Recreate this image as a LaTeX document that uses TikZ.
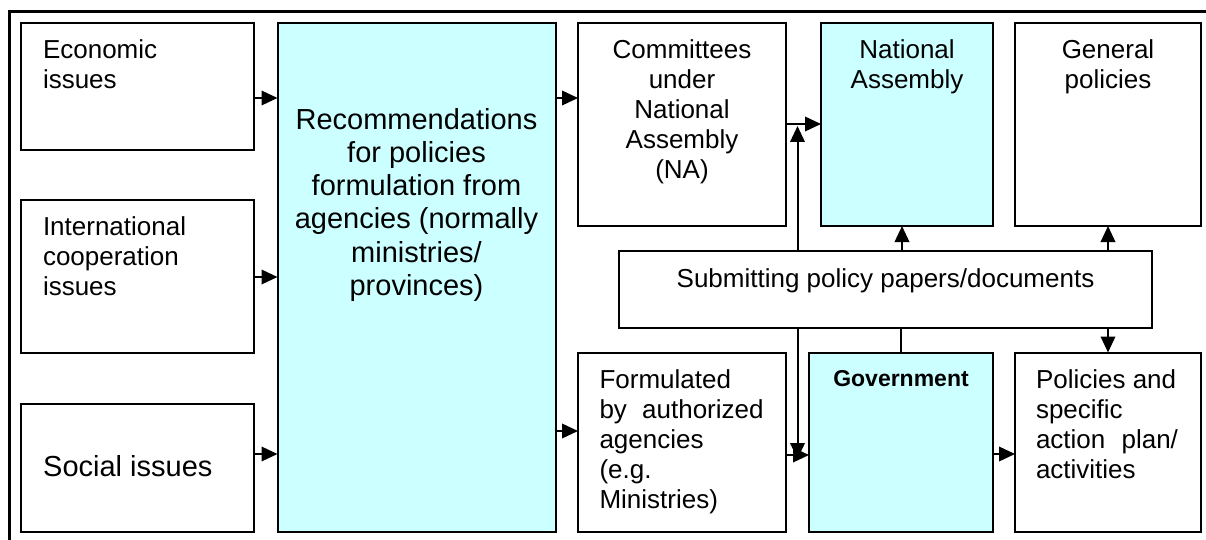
\documentclass[tikz,border=0pt]{standalone}
\usepackage{fontspec}
\setmainfont{Liberation Sans}
\usetikzlibrary{arrows.meta}
\definecolor{paleCyan}{HTML}{CCFFFF}
\tikzset{
  box/.style={draw=black, line width=2pt, anchor=north west, inner sep=0pt, outer sep=0pt, fill=white},
  tintbox/.style={box, fill=paleCyan},
  txt/.style={inner sep=0pt, font=\fontsize{26}{30}\selectfont},
  bigtxt/.style={inner sep=0pt, font=\fontsize{29}{33.3}\selectfont},
  arr/.style={line width=2pt, -{Triangle[length=16pt,width=14.5pt]}},
  link/.style={line width=2pt},
}
\begin{document}
\begin{tikzpicture}[x=1pt, y=-1pt]
  \useasboundingbox (0,0) rectangle (1206,540);
  \fill[white] (0,0) rectangle (1206,540);
  \clip (0,0) rectangle (1206,540);

  % outer frame (runs past the right and bottom edges)
  \draw[line width=2.2pt] (9.5,580) -- (9.5,11.5) -- (1240,11.5);

  % boxes
  \node[box, minimum width=232.5pt, minimum height=127pt]   (econ)   at (21,23)    {};
  \node[box, minimum width=232.5pt, minimum height=153pt]   (intl)   at (21,200)   {};
  \node[box, minimum width=232.5pt, minimum height=127.5pt] (social) at (21,404)   {};
  \node[tintbox, minimum width=278pt, minimum height=508.5pt] (rec)  at (277.5,23) {};
  \node[box, minimum width=207.5pt, minimum height=203pt]   (comm)   at (578,23)   {};
  \node[tintbox, minimum width=172pt, minimum height=203pt] (nat)    at (821,23)   {};
  \node[box, minimum width=186pt, minimum height=203pt]     (gen)    at (1015,23)  {};
  \node[box, minimum width=533pt, minimum height=77pt]      (sub)    at (619,251)  {};
  \node[box, minimum width=208pt, minimum height=179.5pt]   (form)   at (578,352.5) {};
  \node[tintbox, minimum width=184pt, minimum height=179.5pt] (gov)  at (809,352.5) {};
  \node[box, minimum width=186pt, minimum height=179.5pt]   (pol)    at (1015,352.5) {};

  % texts (multi-line nodes are placed by the baseline of their last line)
  \node[txt, anchor=base west, align=left] (econT) at (42.8,88.5) {Economic\\issues};
  \node[txt, anchor=base west, align=left] (intlT) at (42.8,295) {International\\cooperation\\issues};
  \node[bigtxt, anchor=base west] (socT) at (43,476.7) {Social issues};
  \node[bigtxt, anchor=base, align=center] (recT) at (416.5,295.5)
    {Recommendations\\for policies\\formulation from\\agencies (normally\\ministries/\\provinces)};
  \node[txt, anchor=base, align=center] (commT) at (682,178.5) {Committees\\under\\National\\Assembly\\(NA)};
  \node[txt, anchor=base, align=center] (natT) at (907,88.5) {National\\Assembly};
  \node[txt, anchor=base, align=center] (genT) at (1108,88.5) {General\\policies};
  \node[txt, anchor=base] (subT) at (885.5,287) {Submitting policy papers/documents};
  \node[txt, anchor=base west, align=left] (formT) at (599.3,508.3)
    {Formulated\\by\hspace{8pt} authorized\\agencies\\(e.g.\\Ministries)};
  \node[inner sep=0pt, anchor=base, font=\fontsize{23}{27}\selectfont\bfseries] (govT) at (901,386.7) {Government};
  \node[txt, anchor=base west, align=left] (polT) at (1035.8,478.3)
    {Policies and\\specific\\action\hspace{9pt} plan/\\activities};

  % connectors
  \draw[arr] (econ.east |- 0,98)    -- (rec.west |- 0,98);
  \draw[arr] (intl.east |- 0,277)   -- (rec.west |- 0,277);
  \draw[arr] (social.east |- 0,454) -- (rec.west |- 0,454);
  \draw[arr] (rec.east |- 0,98)     -- (comm.west |- 0,98);
  \draw[arr] (rec.east |- 0,431)    -- (form.west |- 0,431);
  \draw[arr] (comm.east |- 0,124)   -- (nat.west |- 0,124);

  \coordinate (upJoin) at (797.5,126);
  \draw[arr] (sub.north -| upJoin) -- (upJoin);
  \draw[arr] (sub.north -| 902,0) -- (nat.south -| 902,0);
  \draw[arr] (sub.north -| gen.south) -- (gen.south);
  \draw[arr] (sub.south -| pol.north) -- (pol.north);

  \coordinate (downJoin) at (797.5,459);
  \draw[arr] (sub.south -| downJoin) -- (downJoin);
  \draw[link] (sub.south -| gov.north) -- (gov.north);
  \draw[arr] (form.east |- 0,455) -- (gov.west |- 0,455);
  \draw[arr] (gov.east |- 0,454)  -- (pol.west |- 0,454);
\end{tikzpicture}
\end{document}
